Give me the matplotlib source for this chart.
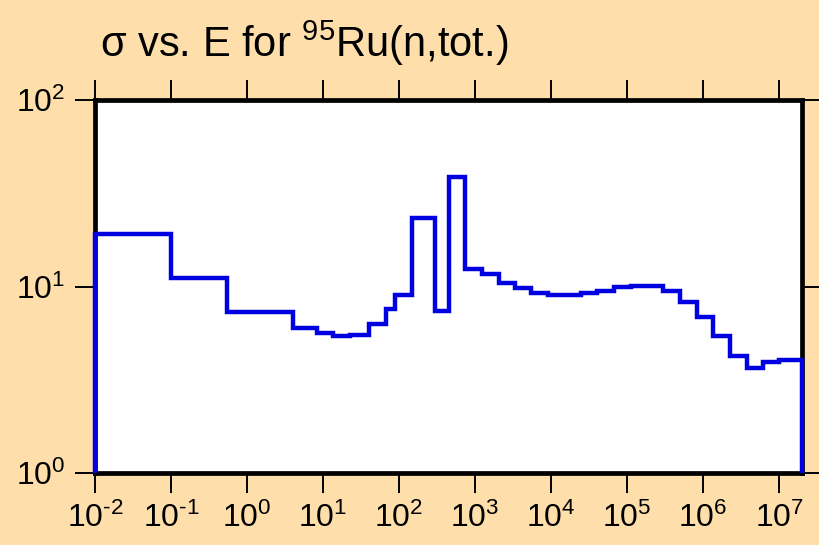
import matplotlib
matplotlib.use("Agg")
import matplotlib.pyplot as plt
from matplotlib.ticker import LogLocator, NullLocator, FuncFormatter
import math

plt.rcParams['font.family'] = ['Liberation Sans', 'DejaVu Sans']
plt.rcParams['mathtext.fontset'] = 'custom'
plt.rcParams['mathtext.rm'] = 'Liberation Sans'
plt.rcParams['mathtext.it'] = 'Liberation Sans'
plt.rcParams['mathtext.bf'] = 'Liberation Sans'

# Energy bin edges (eV) and total cross sections (b)
edges = [1e-2, 0.1, 0.54, 4.0, 8.3, 13.7, 22.6, 40, 67, 89, 148, 300, 459, 747,
         1236, 2050, 3390, 5500, 9120, 15000, 24500, 40600, 67500, 112000,
         186000, 300000, 498000, 826000, 1.34e6, 2.26e6, 3.76e6, 6.1e6, 1.0e7, 2.0e7]
sigma = [19.1, 11.07, 7.33, 6.01, 5.63, 5.41, 5.52, 6.27, 7.6, 9.04, 23.2, 7.42, 38.5,
         12.4, 11.7, 10.4, 9.78, 9.19, 9.0, 9.0, 9.19, 9.49, 9.9, 10.1,
         10.05, 9.46, 8.26, 6.86, 5.45, 4.24, 3.64, 3.94, 4.04]
title = r'σ vs. E for $\mathregular{^{95}}$Ru(n,tot.)'


def dec_fmt(v, pos):
    e = int(round(math.log10(v)))
    if e < 0:
        return r'$\mathregular{10^{\text{-}%d}}$' % (-e)
    return r'$\mathregular{10^{%d}}$' % e


bg = '#fedeab'
fig = plt.figure(figsize=(8.2, 5.45), dpi=100, facecolor=bg)
ax = fig.add_axes([95/820, 1-473/545, (802-95)/820, (473-100)/545])
ax.set_facecolor('white')

ax.stairs(sigma, edges, baseline=1.0, color='#0000e0', linewidth=3.2, zorder=3,
          clip_on=False)

ax.set_xscale('log')
ax.set_yscale('log')
ax.set_xlim(1e-2, 2e7)
ax.set_ylim(1, 100)

ax.xaxis.set_major_locator(LogLocator(base=10, numticks=20))
ax.xaxis.set_minor_locator(NullLocator())
ax.yaxis.set_minor_locator(NullLocator())
ax.set_yticks([1, 10, 100])
ax.xaxis.set_major_formatter(FuncFormatter(dec_fmt))
ax.yaxis.set_major_formatter(FuncFormatter(dec_fmt))

for s in ax.spines.values():
    s.set_linewidth(3.4)
    s.set_color('black')

ax.tick_params(axis='x', which='major', direction='out', length=14.5, width=1.4,
               top=True, bottom=True, labelsize=23, pad=7, color='black')
ax.tick_params(axis='y', which='major', direction='out', length=14.5, width=1.4,
               left=True, right=True, labelsize=23, pad=7, color='black')

fig.text(100/820, 1-57/545, title, fontsize=30, ha='left', va='baseline')

fig.savefig('out.png', dpi=100, facecolor=bg)
